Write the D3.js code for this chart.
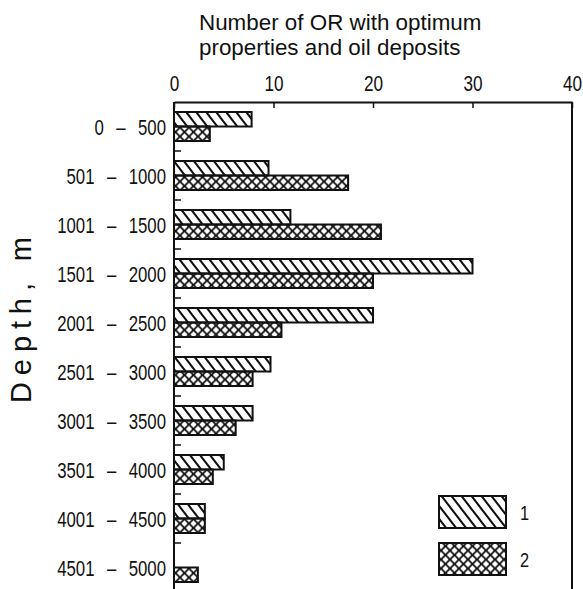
<!DOCTYPE html>
<html><head><meta charset="utf-8">
<script src="https://cdn.jsdelivr.net/npm/d3@7"></script>
<style>
html,body{margin:0;padding:0;background:#fff;}
svg{display:block;}
</style></head>
<body>
<script>
const categories = ["0 – 500","501 – 1000","1001 – 1500","1501 – 2000","2001 – 2500","2501 – 3000","3001 – 3500","3501 – 4000","4001 – 4500","4501 – 5000"];
const series1 = [7.8, 9.5, 11.7, 30, 20, 9.7, 7.9, 5.0, 3.1, 0];
const series2 = [3.6, 17.5, 20.8, 20, 10.8, 7.9, 6.2, 3.9, 3.1, 2.4];
const seriesNames = ["1","2"];
const xTicks = [0,10,20,30,40];
const titleLines = ["Number of OR with optimum","properties and oil deposits"];
const yTitle = "Depth, m";

(function(){
const W = 583, H = 589;
const font = "'Liberation Sans',Arial,sans-serif";
const SX = 0.78; // horizontal squeeze to imitate a narrow face

const svg = d3.select("body").append("svg").attr("width",W).attr("height",H);
const defs = svg.append("defs");

const p1 = defs.append("pattern").attr("id","hatch1").attr("patternUnits","userSpaceOnUse")
  .attr("width",10).attr("height",13);
p1.append("path").attr("d","M-5,-6.5L15,19.5M-15,-6.5L5,19.5M5,-6.5L25,19.5")
  .attr("stroke","#111").attr("stroke-width",2).attr("fill","none");
const p2 = defs.append("pattern").attr("id","hatch2").attr("patternUnits","userSpaceOnUse")
  .attr("width",9).attr("height",9).attr("y",1.5);
p2.append("path").attr("d","M-2,-2L11,11M11,-2L-2,11")
  .attr("stroke","#111").attr("stroke-width",1.8).attr("fill","none");

const mL = 174, mR = 572, mT = 102;
const x = d3.scaleLinear().domain([0,40]).range([mL,mR]);
const y = d3.scaleBand().domain(categories).range([mT, mT + 49*categories.length]).padding(0);
const inner = d3.scaleBand().domain(seriesNames).range([10, 39]).padding(0);

const data = categories.map((c,i)=>({c, vals:[series1[i], series2[i]]}));

const g = svg.append("g");
data.forEach(d=>{
  d.vals.forEach((v,k)=>{
    if (v<=0) return;
    g.append("rect")
      .attr("x", x(0))
      .attr("y", y(d.c) + inner(seriesNames[k]))
      .attr("width", x(v)-x(0))
      .attr("height", inner.bandwidth())
      .attr("fill", k===0 ? "url(#hatch1)" : "url(#hatch2)")
      .attr("stroke","#111").attr("stroke-width",2);
  });
});

const ax = svg.append("g").attr("transform",`translate(0,${mT})`)
  .call(d3.axisTop(x).tickValues(xTicks).tickSizeInner(-6).tickSizeOuter(0).tickPadding(11));
ax.select(".domain").attr("stroke","#111").attr("stroke-width",2);
ax.selectAll(".tick line").attr("stroke","#111").attr("stroke-width",1.5);
ax.selectAll(".tick text").attr("font-family",font).attr("font-size",22).attr("fill","#111")
  .attr("transform",`scale(${SX},1)`);

const ay = svg.append("g").attr("transform",`translate(${mL},0)`)
  .call(d3.axisLeft(y).tickSize(0).tickPadding(9));
ay.select(".domain").remove();
ay.append("line").attr("x1",0).attr("x2",0).attr("y1",mT).attr("y2",H)
  .attr("stroke","#111").attr("stroke-width",2);
ay.selectAll(".tick text").attr("font-family",font).attr("font-size",21.5).attr("fill","#111")
  .attr("x",-8/SX).attr("transform",`scale(${SX},1)`)
  .attr("dy","0.38em").style("word-spacing","10px");
ay.selectAll(".bt").data(categories.slice(0,-1)).join("line").attr("class","bt")
  .attr("x1",0).attr("x2",7)
  .attr("y1",d=>y(d)+y.bandwidth()).attr("y2",d=>y(d)+y.bandwidth())
  .attr("stroke","#111").attr("stroke-width",1.5);

svg.append("line").attr("x1",mR).attr("x2",mR).attr("y1",mT).attr("y2",H)
  .attr("stroke","#111").attr("stroke-width",2);

const t = svg.append("text").attr("font-family",font).attr("font-size",22.4).attr("fill","#111");
t.selectAll("tspan").data(titleLines).join("tspan").attr("x",199).attr("y",(d,i)=>30+i*24.5).text(d=>d);

svg.append("text").attr("transform","translate(31,320) rotate(-90)")
  .attr("text-anchor","middle").attr("font-family",font).attr("font-size",29).attr("fill","#111")
  .attr("textLength",166).attr("lengthAdjust","spacing").text(yTitle);

const lg = svg.append("g");
seriesNames.forEach((s,i)=>{
  lg.append("rect").attr("x",439).attr("y",496+i*47).attr("width",67).attr("height",32)
    .attr("fill", i===0 ? "url(#hatch1)" : "url(#hatch2)").attr("stroke","#111").attr("stroke-width",2);
  lg.append("text").attr("transform",`translate(520,${520+i*47}) scale(${SX},1)`)
    .attr("font-family",font).attr("font-size",21).attr("fill","#111").text(s);
});
})();
</script>
</body></html>
